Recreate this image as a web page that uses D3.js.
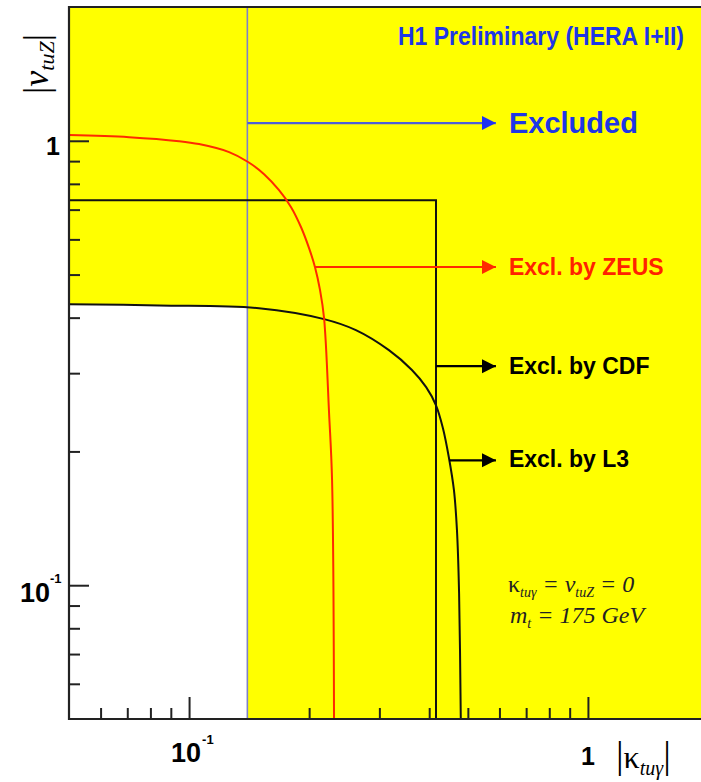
<!DOCTYPE html>
<html>
<head>
<meta charset="utf-8">
<script src="https://cdn.jsdelivr.net/npm/d3@7"></script>
<style>
  body { margin: 0; background: #fff; }
  svg { display: block; }
  .sans { font-family: "Liberation Sans", Arial, sans-serif; font-weight: bold; }
  .serif { font-family: "Liberation Serif", "Times New Roman", serif; }
</style>
</head>
<body>
<div class="chart"></div>
<script>
// axis ranges (log-log)
const kappaDomain = [0.05, 2];
const nuDomain = [0.05, 2];
const majorTicks = [0.1, 1];
const minorTicks = [0.06, 0.07, 0.08, 0.09, 0.2, 0.3, 0.4, 0.5, 0.6, 0.7, 0.8, 0.9];

// H1 limit on kappa
const h1Kappa = 0.14;

// ZEUS exclusion contour
const zeusKappa = [0.05, 0.0707, 0.0944, 0.1059, 0.126, 0.1406, 0.1542, 0.1681, 0.1802, 0.1909, 0.1999, 0.2069, 0.213, 0.218, 0.2244, 0.2283, 0.2309];
const zeusNu = [1.03, 1.019, 0.998, 0.983, 0.943, 0.896, 0.841, 0.774, 0.709, 0.639, 0.5735, 0.5196, 0.4613, 0.399, 0.2438, 0.1723, 0.05];

// L3 exclusion contour
const l3Kappa = [0.05, 0.0841, 0.1497, 0.218, 0.262, 0.317, 0.362, 0.393, 0.416, 0.433, 0.448, 0.4614, 0.4695, 0.4753, 0.480];
const l3Nu = [0.429, 0.426, 0.420, 0.397, 0.375, 0.338, 0.305, 0.279, 0.254, 0.2256, 0.1941, 0.1636, 0.133, 0.0959, 0.05];

// CDF box
const cdfKappa = [0.05, 0.416, 0.416];
const cdfNu = [0.735, 0.735, 0.05];

// arrows + labels
const arrowLabels = ["Excluded", "Excl. by ZEUS", "Excl. by CDF", "Excl. by L3"];
const arrowNu = [1.096, 0.52, 0.311, 0.191];
const arrowFrom = [0.14, 0.207, 0.416, 0.449];
const arrowTo = 0.588;

const width = 701, height = 782;
const m = {left: 69, top: 7, right: 708, bottom: 719};

const svg = d3.select(".chart").append("svg")
    .attr("width", width)
    .attr("height", height);

const x = d3.scaleLog().domain(kappaDomain).range([m.left, m.right]);
const y = d3.scaleLog().domain(nuDomain).range([m.bottom, m.top]);

const defs = svg.append("defs");
defs.append("clipPath").attr("id", "h1clip")
    .append("rect")
    .attr("x", x(0.05)).attr("y", m.top)
    .attr("width", x(h1Kappa) - x(0.05))
    .attr("height", m.bottom - m.top);

// heads for the arrows
const headColours = {blue: "#1f33f2", red: "#ff2a00", black: "#000"};
Object.keys(headColours).forEach(k => {
    defs.append("marker")
        .attr("id", "head-" + k)
        .attr("markerUnits", "userSpaceOnUse")
        .attr("markerWidth", 16).attr("markerHeight", 16)
        .attr("refX", 14).attr("refY", 7)
        .attr("orient", "auto")
        .append("path")
        .attr("d", "M0,0L14,7L0,14Z")
        .style("fill", headColours[k]);
});

// yellow excluded area
svg.append("rect")
    .attr("x", m.left).attr("y", m.top)
    .attr("width", m.right - m.left).attr("height", m.bottom - m.top)
    .style("fill", "#ffff00");

// white allowed area (below L3, left of H1 limit)
const l3Pts = l3Kappa.map((k, i) => [k, l3Nu[i]]);
const allowed = d3.area()
    .x(d => x(d[0]))
    .y0(y(0.05))
    .y1(d => y(d[1]))
    .curve(d3.curveMonotoneX);
svg.append("path")
    .datum(l3Pts.slice(0, 4))
    .attr("clip-path", "url(#h1clip)")
    .attr("d", allowed)
    .style("fill", "#fff");

// H1 limit
svg.append("line")
    .attr("x1", x(h1Kappa)).attr("x2", x(h1Kappa))
    .attr("y1", y(nuDomain[1])).attr("y2", y(nuDomain[0]))
    .style("stroke", "#7f80c8")
    .style("stroke-width", 1.6);

const line = d3.line()
    .x(d => x(d[0]))
    .y(d => y(d[1]));

// CDF
svg.append("path")
    .datum(cdfKappa.map((k, i) => [k, cdfNu[i]]))
    .attr("d", line)
    .attr("fill", "none")
    .style("stroke", "#111")
    .style("stroke-width", 2);

// L3
svg.append("path")
    .datum(l3Pts)
    .attr("d", line.curve(d3.curveCatmullRom.alpha(0.5)))
    .attr("fill", "none")
    .style("stroke", "#111")
    .style("stroke-width", 2);

// ZEUS
svg.append("path")
    .datum(zeusKappa.map((k, i) => [k, zeusNu[i]]))
    .attr("d", line.curve(d3.curveCatmullRom.alpha(0.5)))
    .attr("fill", "none")
    .style("stroke", "#ff2a00")
    .style("stroke-width", 2);

// arrows
const arrowLine = ["#4d5fd6", "#ff2a00", "#000", "#000"];
const arrowHead = ["blue", "red", "black", "black"];
const textColour = ["#1e36e6", "#ff2200", "#000", "#000"];
const textSize = [29, 23, 23, 23];
const textDy = [10, 8, 8, 7];

arrowLabels.forEach((label, i) => {
    svg.append("line")
        .attr("x1", x(arrowFrom[i])).attr("x2", x(arrowTo))
        .attr("y1", y(arrowNu[i])).attr("y2", y(arrowNu[i]))
        .style("stroke", arrowLine[i])
        .style("stroke-width", 2.2)
        .attr("marker-end", "url(#head-" + arrowHead[i] + ")");

    svg.append("text")
        .text(label)
        .attr("x", x(arrowTo) + 13)
        .attr("y", y(arrowNu[i]) + textDy[i])
        .classed("sans", true)
        .style("font-size", textSize[i] + "px")
        .style("fill", textColour[i]);
});

// axes (ticks point inwards)
const yMajor = d3.axisLeft(y).tickValues(majorTicks).tickSize(-20).tickFormat("");
const yMinor = d3.axisLeft(y).tickValues(minorTicks).tickSize(-11).tickFormat("");
const xMajor = d3.axisBottom(x).tickValues(majorTicks).tickSize(-22).tickFormat("");
const xMinor = d3.axisBottom(x).tickValues(minorTicks).tickSize(-11).tickFormat("");

[yMajor, yMinor].forEach(a => {
    svg.append("g").classed("y-axis", true)
        .attr("transform", "translate(" + m.left + ",0)")
        .call(a);
});
[xMajor, xMinor].forEach(a => {
    svg.append("g").classed("x-axis", true)
        .attr("transform", "translate(0," + m.bottom + ")")
        .call(a);
});
svg.selectAll(".domain").remove();
svg.selectAll(".tick line").style("stroke", "#222").style("stroke-width", 2);

// frame
svg.append("path")
    .attr("d", "M" + m.right + "," + m.top + "H" + m.left + "V" + m.bottom + "H" + m.right)
    .attr("fill", "none")
    .style("stroke", "#222")
    .style("stroke-width", 2.2);

// tick labels
svg.append("text").classed("sans", true)
    .attr("x", 60).attr("y", y(1) + 14)
    .style("text-anchor", "end").style("font-size", "25px")
    .text("1");
svg.append("text").classed("sans", true)
    .attr("x", 50).attr("y", y(0.1) + 17)
    .style("text-anchor", "end").style("font-size", "27px")
    .text("10");
svg.append("text").classed("sans", true)
    .attr("x", 50).attr("y", y(0.1) - 2)
    .style("font-size", "13px")
    .text("-1");

svg.append("text").classed("sans", true)
    .attr("x", x(0.1) - 3).attr("y", 762)
    .style("text-anchor", "middle").style("font-size", "27px")
    .text("10");
svg.append("text").classed("sans", true)
    .attr("x", x(0.1) + 13).attr("y", 744)
    .style("font-size", "13px")
    .text("-1");
svg.append("text").classed("sans", true)
    .attr("x", x(1)).attr("y", 765)
    .style("text-anchor", "middle").style("font-size", "25px")
    .text("1");

// axis titles
const yt = svg.append("text").classed("serif", true)
    .attr("transform", "translate(48,64) rotate(-90)")
    .style("text-anchor", "middle")
    .style("font-size", "36px");
yt.append("tspan").text("|");
yt.append("tspan").text("ν").style("font-style", "italic");
yt.append("tspan").text("tuZ").attr("dy", 6).style("font-style", "italic").style("font-size", "22px");
yt.append("tspan").text("|").attr("dy", -6);

const xt = svg.append("text").classed("serif", true)
    .attr("x", 616).attr("y", 768)
    .style("font-size", "38px");
xt.append("tspan").text("|");
xt.append("tspan").text("κ").style("font-size", "32px");
xt.append("tspan").text("tuγ").attr("dy", 7).style("font-style", "italic").style("font-size", "20px");
xt.append("tspan").text("|").attr("dy", -7);

// title (slightly condensed, as in the original)
svg.append("g")
    .attr("transform", "translate(684,45) scale(0.92,1)")
    .append("text").classed("sans", true)
    .style("text-anchor", "end")
    .style("font-size", "25px")
    .style("fill", "#1e36e6")
    .text("H1 Preliminary (HERA I+II)");

// note
const n1 = svg.append("text").classed("serif", true)
    .attr("x", 508).attr("y", 592)
    .style("font-size", "24px").style("font-style", "italic")
    .style("fill", "#222");
n1.append("tspan").text("κ").style("font-style", "normal");
n1.append("tspan").text("tuγ").attr("dy", 5).style("font-size", "14px");
n1.append("tspan").text(" = ν").attr("dy", -5);
n1.append("tspan").text("tuZ").attr("dy", 5).style("font-size", "14px");
n1.append("tspan").text(" = 0").attr("dy", -5);

const n2 = svg.append("text").classed("serif", true)
    .attr("x", 510).attr("y", 623)
    .style("font-size", "24px").style("font-style", "italic")
    .style("fill", "#222");
n2.append("tspan").text("m");
n2.append("tspan").text("t").attr("dy", 5).style("font-size", "14px");
n2.append("tspan").text(" = 175 GeV").attr("dy", -5);
</script>
</body>
</html>
